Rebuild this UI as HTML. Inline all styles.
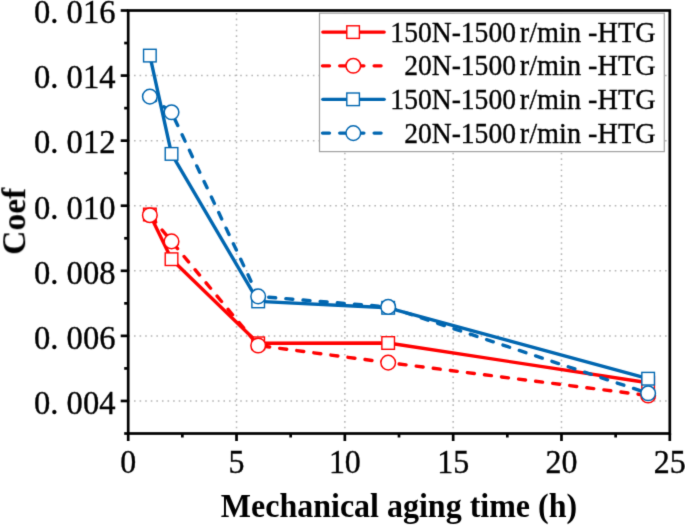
<!DOCTYPE html>
<html><head><meta charset="utf-8"><style>
html,body{margin:0;padding:0;background:#fff;width:685px;height:525px;overflow:hidden}
svg{display:block}
.tk{font-family:"Liberation Serif",serif;font-size:32.6px;fill:#000;stroke:#000;stroke-width:0.35px}
.lt{font-family:"Liberation Serif",serif;font-size:27.6px;fill:#000;stroke:#000;stroke-width:0.3px}
.ti{font-family:"Liberation Serif",serif;font-size:32px;font-weight:bold;fill:#000}
</style></head><body>
<svg width="685" height="525" viewBox="0 0 685 525">
<defs><filter id="bl" color-interpolation-filters="sRGB" x="0" y="0" width="685" height="525" filterUnits="userSpaceOnUse"><feConvolveMatrix order="3" kernelMatrix="0.01440 0.09120 0.01440 0.09120 0.57760 0.09120 0.01440 0.09120 0.01440" divisor="1" edgeMode="duplicate"/></filter></defs>
<g filter="url(#bl)">
<rect width="685" height="525" fill="#fff"/>
<g stroke="#b4b4b4" stroke-width="1.5" stroke-dasharray="1.6 3.99"><line x1="236.52" y1="13.00" x2="236.52" y2="432.00"/><line x1="344.84" y1="13.00" x2="344.84" y2="432.00"/><line x1="453.16" y1="13.00" x2="453.16" y2="432.00"/><line x1="561.48" y1="13.00" x2="561.48" y2="432.00"/><line x1="128.40" y1="400.96" x2="667.80" y2="400.96"/><line x1="128.40" y1="335.88" x2="667.80" y2="335.88"/><line x1="128.40" y1="270.81" x2="667.80" y2="270.81"/><line x1="128.40" y1="205.73" x2="667.80" y2="205.73"/><line x1="128.40" y1="140.65" x2="667.80" y2="140.65"/><line x1="128.40" y1="75.58" x2="667.80" y2="75.58"/></g>
<polyline points="149.86,214.50 171.53,259.20 258.18,343.30 388.17,343.00 648.14,382.80" fill="none" stroke="#ff0000" stroke-width="3.4" stroke-linecap="round" stroke-linejoin="round"/>
<rect x="143.56" y="208.20" width="12.6" height="12.6" fill="#fff" stroke="#ff0000" stroke-width="1.4"/><rect x="165.23" y="252.90" width="12.6" height="12.6" fill="#fff" stroke="#ff0000" stroke-width="1.4"/><rect x="251.88" y="337.00" width="12.6" height="12.6" fill="#fff" stroke="#ff0000" stroke-width="1.4"/><rect x="381.87" y="336.70" width="12.6" height="12.6" fill="#fff" stroke="#ff0000" stroke-width="1.4"/><rect x="641.84" y="376.50" width="12.6" height="12.6" fill="#fff" stroke="#ff0000" stroke-width="1.4"/>
<polyline points="149.86,215.20 171.53,241.40 258.18,345.50 388.17,362.60 648.14,395.50" fill="none" stroke="#ff0000" stroke-width="3.4" stroke-linecap="round" stroke-linejoin="round" stroke-dasharray="7.0 10.2" stroke-dashoffset="-2"/>
<circle cx="149.86" cy="215.20" r="7.3" fill="#fff" stroke="#ff0000" stroke-width="1.5"/><circle cx="171.53" cy="241.40" r="7.3" fill="#fff" stroke="#ff0000" stroke-width="1.5"/><circle cx="258.18" cy="345.50" r="7.3" fill="#fff" stroke="#ff0000" stroke-width="1.5"/><circle cx="388.17" cy="362.60" r="7.3" fill="#fff" stroke="#ff0000" stroke-width="1.5"/><circle cx="648.14" cy="395.50" r="7.3" fill="#fff" stroke="#ff0000" stroke-width="1.5"/>
<polyline points="149.86,55.60 171.53,153.90 258.18,301.40 388.17,307.80 648.14,378.70" fill="none" stroke="#0066b0" stroke-width="3.4" stroke-linecap="round" stroke-linejoin="round"/>
<rect x="143.56" y="49.30" width="12.6" height="12.6" fill="#fff" stroke="#0066b0" stroke-width="1.4"/><rect x="165.23" y="147.60" width="12.6" height="12.6" fill="#fff" stroke="#0066b0" stroke-width="1.4"/><rect x="251.88" y="295.10" width="12.6" height="12.6" fill="#fff" stroke="#0066b0" stroke-width="1.4"/><rect x="381.87" y="301.50" width="12.6" height="12.6" fill="#fff" stroke="#0066b0" stroke-width="1.4"/><rect x="641.84" y="372.40" width="12.6" height="12.6" fill="#fff" stroke="#0066b0" stroke-width="1.4"/>
<polyline points="149.86,96.60 171.53,112.30 258.18,296.40 388.17,306.90 648.14,393.30" fill="none" stroke="#0066b0" stroke-width="3.4" stroke-linecap="round" stroke-linejoin="round" stroke-dasharray="7.0 10.2" stroke-dashoffset="0"/>
<circle cx="149.86" cy="96.60" r="7.3" fill="#fff" stroke="#0066b0" stroke-width="1.5"/><circle cx="171.53" cy="112.30" r="7.3" fill="#fff" stroke="#0066b0" stroke-width="1.5"/><circle cx="258.18" cy="296.40" r="7.3" fill="#fff" stroke="#0066b0" stroke-width="1.5"/><circle cx="388.17" cy="306.90" r="7.3" fill="#fff" stroke="#0066b0" stroke-width="1.5"/><circle cx="648.14" cy="393.30" r="7.3" fill="#fff" stroke="#0066b0" stroke-width="1.5"/>
<rect x="319.5" y="13.2" width="344.8" height="138.4" fill="#fff" stroke="#a0a0a0" stroke-width="1.2"/><line x1="322.8" y1="32.1" x2="384.2" y2="32.1" stroke="#ff0000" stroke-width="3.3" stroke-linecap="round"/><rect x="346.8" y="25.8" width="12.6" height="12.6" fill="#fff" stroke="#ff0000" stroke-width="1.4"/><text transform="translate(516.00 41.50) scale(1.0 1.04)" text-anchor="end" class="lt">150N-1500</text><text transform="translate(519.80 41.50) scale(1.0 1.04)" text-anchor="start" class="lt" textLength="135.8" lengthAdjust="spacingAndGlyphs">r/min -HTG</text><line x1="322.5" y1="65.8" x2="386" y2="65.8" stroke="#ff0000" stroke-width="3.3" stroke-linecap="round" stroke-dasharray="7.0 10.2"/><circle cx="353.3" cy="65.8" r="7.3" fill="#fff" stroke="#ff0000" stroke-width="1.5"/><text transform="translate(516.00 75.20) scale(1.0 1.04)" text-anchor="end" class="lt">20N-1500</text><text transform="translate(519.80 75.20) scale(1.0 1.04)" text-anchor="start" class="lt" textLength="135.8" lengthAdjust="spacingAndGlyphs">r/min -HTG</text><line x1="322.8" y1="99.3" x2="384.2" y2="99.3" stroke="#0066b0" stroke-width="3.3" stroke-linecap="round"/><rect x="346.8" y="93.0" width="12.6" height="12.6" fill="#fff" stroke="#0066b0" stroke-width="1.4"/><text transform="translate(516.00 108.70) scale(1.0 1.04)" text-anchor="end" class="lt">150N-1500</text><text transform="translate(519.80 108.70) scale(1.0 1.04)" text-anchor="start" class="lt" textLength="135.8" lengthAdjust="spacingAndGlyphs">r/min -HTG</text><line x1="322.5" y1="133.1" x2="386" y2="133.1" stroke="#0066b0" stroke-width="3.3" stroke-linecap="round" stroke-dasharray="7.0 10.2"/><circle cx="353.3" cy="133.1" r="7.3" fill="#fff" stroke="#0066b0" stroke-width="1.5"/><text transform="translate(516.00 142.50) scale(1.0 1.04)" text-anchor="end" class="lt">20N-1500</text><text transform="translate(519.80 142.50) scale(1.0 1.04)" text-anchor="start" class="lt" textLength="135.8" lengthAdjust="spacingAndGlyphs">r/min -HTG</text>
<g stroke="#000" stroke-width="2.7" stroke-linecap="butt"><rect x="128.2" y="10.5" width="541.60" height="423.00" fill="none" stroke="#000" stroke-width="2.7"/><line x1="124.20" y1="433.50" x2="128.20" y2="433.50"/><line x1="120.70" y1="400.96" x2="128.20" y2="400.96"/><line x1="124.20" y1="368.42" x2="128.20" y2="368.42"/><line x1="120.70" y1="335.88" x2="128.20" y2="335.88"/><line x1="124.20" y1="303.35" x2="128.20" y2="303.35"/><line x1="120.70" y1="270.81" x2="128.20" y2="270.81"/><line x1="124.20" y1="238.27" x2="128.20" y2="238.27"/><line x1="120.70" y1="205.73" x2="128.20" y2="205.73"/><line x1="124.20" y1="173.19" x2="128.20" y2="173.19"/><line x1="120.70" y1="140.65" x2="128.20" y2="140.65"/><line x1="124.20" y1="108.12" x2="128.20" y2="108.12"/><line x1="120.70" y1="75.58" x2="128.20" y2="75.58"/><line x1="124.20" y1="43.04" x2="128.20" y2="43.04"/><line x1="120.70" y1="10.50" x2="128.20" y2="10.50"/><line x1="128.20" y1="433.50" x2="128.20" y2="441.00"/><line x1="182.36" y1="433.50" x2="182.36" y2="437.50"/><line x1="236.52" y1="433.50" x2="236.52" y2="441.00"/><line x1="290.68" y1="433.50" x2="290.68" y2="437.50"/><line x1="344.84" y1="433.50" x2="344.84" y2="441.00"/><line x1="399.00" y1="433.50" x2="399.00" y2="437.50"/><line x1="453.16" y1="433.50" x2="453.16" y2="441.00"/><line x1="507.32" y1="433.50" x2="507.32" y2="437.50"/><line x1="561.48" y1="433.50" x2="561.48" y2="441.00"/><line x1="615.64" y1="433.50" x2="615.64" y2="437.50"/><line x1="669.80" y1="433.50" x2="669.80" y2="441.00"/></g>
<text transform="translate(115.50 413.76) scale(1.0 1.06)" text-anchor="end" class="tk">0. 004</text><text transform="translate(115.50 348.68) scale(1.0 1.06)" text-anchor="end" class="tk">0. 006</text><text transform="translate(115.50 283.61) scale(1.0 1.06)" text-anchor="end" class="tk">0. 008</text><text transform="translate(115.50 218.53) scale(1.0 1.06)" text-anchor="end" class="tk">0. 010</text><text transform="translate(115.50 153.45) scale(1.0 1.06)" text-anchor="end" class="tk">0. 012</text><text transform="translate(115.50 88.38) scale(1.0 1.06)" text-anchor="end" class="tk">0. 014</text><text transform="translate(115.50 23.30) scale(1.0 1.06)" text-anchor="end" class="tk">0. 016</text><text transform="translate(128.20 473.30) scale(0.98 1.06)" text-anchor="middle" class="tk">0</text><text transform="translate(236.52 473.30) scale(0.98 1.06)" text-anchor="middle" class="tk">5</text><text transform="translate(344.84 473.30) scale(0.98 1.06)" text-anchor="middle" class="tk">10</text><text transform="translate(453.16 473.30) scale(0.98 1.06)" text-anchor="middle" class="tk">15</text><text transform="translate(561.48 473.30) scale(0.98 1.06)" text-anchor="middle" class="tk">20</text><text transform="translate(669.80 473.30) scale(0.98 1.06)" text-anchor="middle" class="tk">25</text><text transform="translate(399.00 516.60) scale(1.0 1.05)" text-anchor="middle" class="ti">Mechanical aging time (h)</text><text transform="translate(25.2,221.3) rotate(-90)" text-anchor="middle" class="ti" style="font-size:33.5px">Coef</text>
</g>
</svg>
</body></html>
